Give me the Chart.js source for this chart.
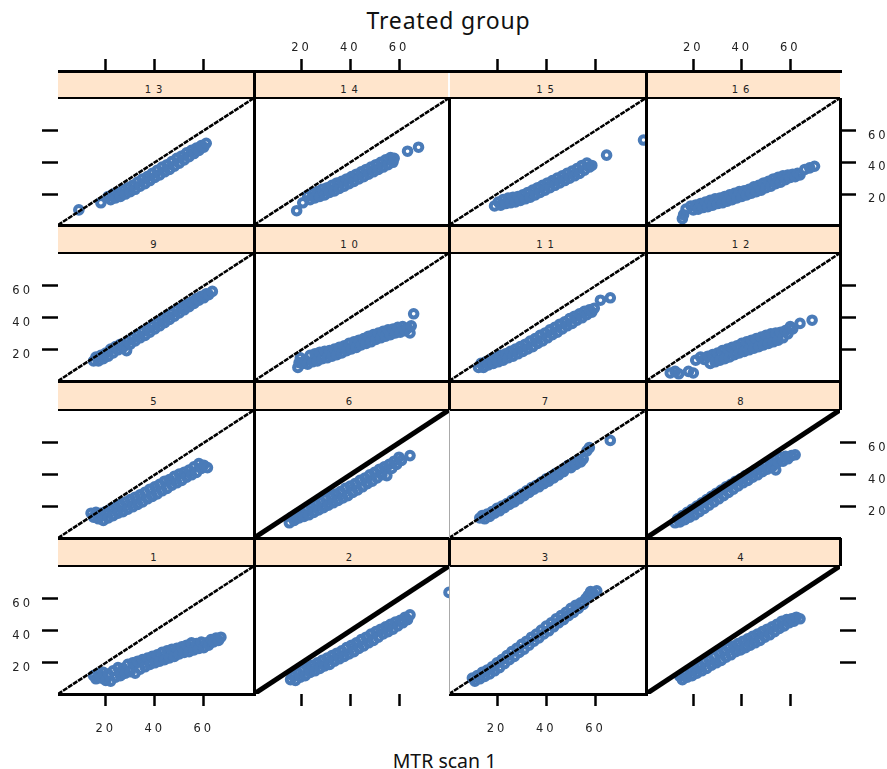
<!DOCTYPE html>
<html>
<head>
<meta charset="utf-8">
<script src="https://cdn.jsdelivr.net/npm/chart.js@4.4.1/dist/chart.umd.min.js"></script>
<style>
  html, body { margin: 0; padding: 0; background: #fff; }
  #fig { position: relative; width: 887px; height: 769px; overflow: hidden; font-family: "Noto Sans", sans-serif; color: #111; }
  #fig canvas { position: absolute; z-index: 1; }
  .strip { position: absolute; z-index: 2; background: #ffe5cc; display: flex; align-items: flex-end; justify-content: center;
           font: 10px "DejaVu Sans", sans-serif; letter-spacing: 5px; color: #222; line-height: 12px; padding-bottom: 2px; box-sizing: border-box; }
  .rule { position: absolute; z-index: 3; background: #000; }
  .label { position: absolute; left: 0; width: 887px; text-align: center; white-space: nowrap; }
</style>
</head>
<body>
<div id="fig">
  <div class="label" style="top:5px;left:5px;font-size:23px;line-height:31px;letter-spacing:0.8px;">Treated group</div>
  <div class="label" style="top:747px;font-size:19.5px;line-height:27px;left:1px;">MTR scan 1</div>
</div>
<script>
// shared axis settings
const axisLimits = [0.5, 80.5];
const tickValues = [20, 40, 60];
const panelLabels = ["1", "2", "3", "4", "5", "6", "7", "8", "9", "10", "11", "12", "13", "14", "15", "16"];

// per-subject scan pairs (scan 1, scan 2)
const pts1 = [[15,12],[16,10],[17,13.5],[18,10.5],[19,14],[20,9],[21,13],[22,8.5],[23,15],[24,11],[25,17],[26,12],[27,16.5],[28,13.5],[29,19],[30,14.5],[31,20],[32,13.5],[33,21],[34,16],[35,22],[36,17.5],[37,23],[38,19],[39,24],[40,20],[41,25],[42,21],[43,26.5],[44,22],[45,27.5],[46,23],[47,28.5],[48,24],[49,29],[50,25.5],[51,30],[52,26.5],[53,31],[54,27],[55,32.5],[56,28],[57,32],[58,29],[59,33],[60,29.5],[61,32.5],[62,31],[63,34.5],[64,33],[65,35.5],[66,34],[67,36]];
const pts2 = [[15.5,9.5],[16.5,12],[17.5,9],[18.5,13.5],[19.5,11],[20.5,15.5],[21.5,12],[22.5,17],[23.5,14],[24.5,18.5],[25.5,15],[26.5,20],[27.5,16.5],[28.5,21.5],[29.5,18],[30.5,23],[31.5,19],[32.5,24.5],[33.5,21],[34.5,26],[35.5,22.5],[36.5,27.5],[37.5,24],[38.5,29.5],[39.5,25.5],[40.5,31],[41.5,27],[42.5,32.5],[43.5,29],[44.5,34.5],[45.5,30.5],[46.5,36],[47.5,32.5],[48.5,38],[49.5,34],[50.5,39.5],[51.5,36],[52.5,41],[53.5,38],[54.5,42.5],[55.5,39.5],[56.5,44],[57.5,41],[58.5,45.5],[59.5,43],[60.5,46.5],[61.5,45],[62.5,48.5],[63.5,47],[64.5,50],[80.5,64]];
const pts3 = [[10,10.5],[11,8.5],[12,12],[13,10],[14,14],[15,11.5],[16,15.5],[17,13],[18,17.5],[19,15],[20,20],[21,17],[22,22],[23,19.5],[24,24.5],[25,22],[26,27],[27,24],[28,29],[29,26.5],[30,31.5],[31,28.5],[32,33.5],[33,31],[34,36],[35,33.5],[36,38],[37,35.5],[38,40.5],[39,38],[40,43],[41,40],[42,45],[43,42.5],[44,47.5],[45,45],[46,49.5],[47,47],[48,51.5],[49,49.5],[50,54],[51,51.5],[52,56],[53,54],[54,57.5],[55,56.5],[56,60],[57,62],[58,64.5],[59,63.5],[60.5,65]];
const pts4 = [[14.5,11.5],[15.5,9.5],[16.5,13.5],[17.5,11],[18.5,15.5],[19.5,12],[20.5,17],[21.5,13.5],[22.5,18.5],[23.5,15],[24.5,20.5],[25.5,16.5],[26.5,22],[27.5,18.5],[28.5,24],[29.5,20],[30.5,26],[31.5,21.5],[32.5,27.5],[33.5,23.5],[34.5,29.5],[35.5,25],[36.5,30.5],[37.5,27],[38.5,32],[39.5,28],[40.5,33.5],[41.5,29.5],[42.5,35],[43.5,31],[44.5,36.5],[45.5,32.5],[46.5,38],[47.5,34],[48.5,39.5],[49.5,36],[50.5,41],[51.5,37.5],[52.5,42.5],[53.5,39.5],[54.5,44],[55.5,41.5],[56.5,46],[57.5,43],[58.5,47],[59.5,45],[60.5,47.5],[61.5,46],[62.5,48.5],[64,47.5]];
const pts5 = [[14,16],[15,13.5],[16,16.5],[17,12.5],[18,16],[19,11.5],[20,17],[21,13],[22,18.5],[23,14.5],[24,20],[25,16],[26,21.5],[27,17],[28,23],[29,18.5],[30,24.5],[31,20],[32,26],[33,21.5],[34,27.5],[35,23],[36,29],[37,25],[38,31],[39,26.5],[40,32.5],[41,28],[42,34],[43,30],[44,36],[45,31.5],[46,37],[47,33.5],[48,39],[49,35],[50,40.5],[51,36.5],[52,41.5],[53,38.5],[54,43],[55,40],[56,45],[57,41.5],[58,47],[59,44],[60,46],[61.5,44.5]];
const pts6 = [[15,10],[16,13.5],[17,11.5],[18,15.5],[19,13],[20,16.5],[21,14],[22,18.5],[23,15],[24,20],[25,16.5],[26,21.5],[27,18],[28,23],[29,19.5],[30,25],[31,21],[32,26.5],[33,22.5],[34,28],[35,24],[36,29.5],[37,25.5],[38,31.5],[39,27],[40,33],[41,29],[42,34.5],[43,30.5],[44,36.5],[45,32.5],[46,38],[47,34.5],[48,40],[49,36],[50,41.5],[51,38],[52,43.5],[53,40],[54,45],[55,39.5],[56,46.5],[57,44],[58,48.5],[59,46.5],[60,51],[61,49],[64.5,52]];
const pts7 = [[13,13],[14,14.5],[15,12.5],[16,15.5],[17,14],[18,17],[19,16],[20,19],[21,17.5],[22,20.5],[23,19.5],[24,22],[25,21.5],[26,24],[27,23],[28,26],[29,25],[30,28],[31,27],[32,30],[33,29],[34,32],[35,31],[36,33.5],[37,32.5],[38,35.5],[39,34.5],[40,37.5],[41,36],[42,39],[43,38],[44,41],[45,40],[46,42.5],[47,42],[48,44.5],[49,46],[50,44.5],[51,47.5],[52,46.5],[53,49.5],[54,48],[55,50],[56.5,55],[57.5,57],[66,61.5]];
const pts8 = [[12.5,10],[13.5,12.5],[14.5,10.5],[15.5,14.5],[16.5,12],[17.5,16.5],[18.5,13.5],[19.5,18.5],[20.5,15],[21.5,20.5],[22.5,17],[23.5,22.5],[24.5,19],[25.5,24.5],[26.5,21],[27.5,26.5],[28.5,23],[29.5,28.5],[30.5,25],[31.5,30.5],[32.5,27],[33.5,32.5],[34.5,29],[35.5,34],[36.5,31],[37.5,36],[38.5,33],[39.5,37.5],[40.5,35],[41.5,39.5],[42.5,36.5],[43.5,41],[44.5,38.5],[45.5,43],[46.5,40],[47.5,44.5],[48.5,42],[49.5,46.5],[50.5,43.5],[51.5,48],[52.5,45],[53.5,49.5],[54,43],[55,48],[56,51],[57,48.5],[58,51.5],[59,50],[60.5,52],[62,52.5]];
const pts9 = [[15,13],[16,15.5],[17,13],[18,16.5],[19,14.5],[20,18],[21,16],[22,20.5],[23,18],[24,22],[25,20],[26,23.5],[27,21.5],[28.5,19.5],[29,25.5],[30,23.5],[31,27.5],[32,25.5],[33,29.5],[34,27.5],[35,31.5],[36,29],[37,33],[38,31],[39,35],[40,33],[41,37],[42,35],[43,39],[44,37],[45,41],[46,39],[47,43],[48,41],[49,45],[50,43],[51,46.5],[52,45],[53,48.5],[54,47],[55,50],[56,49],[57,52],[58,51],[59,53.5],[60,52.5],[61,55],[62,54.5],[63.5,56.5]];
const pts10 = [[18.5,9],[19,12],[19.5,15],[20.5,11.5],[21.5,13.5],[22.5,11],[23.5,16.5],[24.5,12.5],[25.5,17.5],[26.5,13],[27.5,18.5],[28.5,14.5],[29.5,19],[30.5,15],[31.5,19.5],[32.5,16],[33.5,20.5],[34.5,17],[35.5,21.5],[36.5,18],[37.5,22.5],[38.5,19.5],[39.5,24],[40.5,20.5],[41.5,25],[42.5,21.5],[43.5,26],[44.5,23],[45.5,27],[46.5,24],[47.5,28.5],[48.5,25],[49.5,29.5],[50.5,26.5],[51.5,30.5],[52.5,27.5],[53.5,31.5],[54.5,28.5],[55.5,32.5],[56.5,29.5],[57.5,33],[58.5,30.5],[59.5,34],[60.5,31],[61.5,34.5],[62.5,32],[63.5,33.5],[64.5,30.5],[65,35],[66,42.5]];
const pts11 = [[12.5,9],[13.5,11.5],[14.5,9],[15.5,12.5],[16.5,10.5],[17.5,14],[18.5,11.5],[19.5,15],[20.5,12.5],[21.5,16.5],[22.5,13.5],[23.5,17.5],[24.5,15],[25.5,19],[26.5,16],[27.5,20.5],[28.5,17.5],[29.5,22],[30.5,19],[31.5,23.5],[32.5,20.5],[33.5,25.5],[34.5,22],[35.5,27],[36.5,24],[37.5,29],[38.5,25.5],[39.5,30.5],[40.5,27.5],[41.5,32.5],[42.5,29.5],[43.5,34],[44.5,31],[45.5,36],[46.5,33],[47.5,37.5],[48.5,35],[49.5,39.5],[50.5,36.5],[51.5,41],[52.5,38.5],[53.5,42.5],[54.5,40],[55.5,44],[56.5,42],[57.5,45],[58.5,43.5],[59.5,46],[62,51],[66,52.5]];
const pts12 = [[10.5,5.5],[12.5,6.5],[14,5],[18,6.5],[20,5.5],[21,13.5],[23,15.5],[24.5,14],[26,16],[27,11.5],[28,17],[29,12.5],[30,18],[31,13.5],[32,19.5],[33,14.5],[34,20.5],[35,15.5],[36,21.5],[37,17],[38,22.5],[39,18],[40,24],[41,19],[42,25],[43,20],[44,26],[45,21],[46,27],[47,22],[48,28],[49,23],[50,29],[51,24],[52,30],[53,25],[54,30.5],[55,26],[56,31],[57,27.5],[58,32],[59,30],[60,34.5],[61,33],[64,36.5],[69,38.5]];
const pts13 = [[9,10],[18,14.5],[21,18.5],[22,16.5],[23,20],[24,17.5],[25,21],[26,18.5],[27,22.5],[28,20],[29,24],[30,21.5],[31,25.5],[32,23],[33,27.5],[34,25],[35,29.5],[36,26.5],[37,31],[38,28.5],[39,33],[40,30.5],[41,35],[42,32],[43,37],[44,34],[45,38.5],[46,35.5],[47,40.5],[48,37.5],[49,42.5],[50,39.5],[51,44],[52,41.5],[53,46],[54,43.5],[55,47.5],[56,45.5],[57,49],[58,47.5],[59,50.5],[60,49.5],[61,52]];
const pts14 = [[18,9.5],[20.5,14.5],[22.5,19],[23.5,16.5],[24.5,20.5],[25.5,17.5],[26.5,21.5],[27.5,18.5],[28.5,23],[29.5,19.5],[30.5,24],[31.5,21],[32.5,25.5],[33.5,22],[34.5,27],[35.5,23.5],[36.5,28],[37.5,25],[38.5,29.5],[39.5,26.5],[40.5,31],[41.5,28],[42.5,32.5],[43.5,29.5],[44.5,34],[45.5,31],[46.5,35.5],[47.5,32.5],[48.5,37],[49.5,34],[50.5,38.5],[51.5,35.5],[52.5,40],[53.5,37],[54.5,41.5],[55.5,38.5],[56.5,43],[57.5,40],[58,42.5],[63.5,47],[68,49.5]];
const pts15 = [[19,12.5],[20.5,15],[21.5,13],[22.5,16.5],[23.5,14],[24.5,17.5],[25.5,14.5],[26.5,18],[27.5,15],[28.5,18.5],[29.5,16],[30.5,19.5],[31.5,17],[32.5,21],[33.5,18],[34.5,22.5],[35.5,19.5],[36.5,24],[37.5,21],[38.5,25.5],[39.5,22.5],[40.5,27],[41.5,24],[42.5,28.5],[43.5,25.5],[44.5,30],[45.5,27],[46.5,31.5],[47.5,28.5],[48.5,33],[49.5,30],[50.5,34.5],[51.5,31.5],[52.5,36],[53.5,33],[54.5,38],[55.5,35],[56.5,39.5],[57.5,37],[58.5,38],[64.5,44.5],[79.5,54]];
const pts16 = [[15.5,4.5],[16,7],[17,10.5],[19,12.5],[20,10],[21,13],[22,10.5],[23,14],[24,11.5],[25,15],[26,12],[27,16],[28,13],[29,17],[30,14],[31,17.5],[32,14.5],[33,18.5],[34,15.5],[35,19.5],[36,16.5],[37,20.5],[38,17.5],[39,21.5],[40,18.5],[41,22],[42,19.5],[43,23],[44,20.5],[45,24.5],[46,21.5],[47,25.5],[48,22.5],[49,27],[50,24],[51,28],[52,25],[53,29.5],[54,26.5],[55,30.5],[56,27.5],[57,31.5],[58,29],[59,32],[60,30.5],[61,32.5],[62,31],[63,33],[64,32],[66,35.5],[68,36.5],[70,37.5]];

const panelPoints = [pts1, pts2, pts3, pts4, pts5, pts6, pts7, pts8, pts9, pts10, pts11, pts12, pts13, pts14, pts15, pts16];
// panels whose identity line is drawn heavy
const heavyRefPanels = [2, 4, 6, 8];

// page grid (row 0 is the top row)
const colEdges = [58, 254, 449, 646, 840];
const stripTops = [71, 225, 381, 538];
const panelTops = [98, 253, 410, 566];
const panelBottoms = [225, 381, 538, 694];
const MARGIN = 60;
const BLUE = "#4a7bb8";
const TICK_FONT = { family: "DejaVu Sans", size: 11.5 };

const fig = document.getElementById("fig");

function rule(x, y, w, h, color) {
    const d = document.createElement("div");
    d.className = "rule";
    d.style.cssText = `left:${x}px;top:${y}px;width:${w}px;height:${h}px;` + (color ? `background:${color};` : "");
    fig.appendChild(d);
}

function axis(position, showTicks, showLabels, tickLength, padding, labelOffset) {
    const horizontal = position === "top" || position === "bottom";
    return {
        type: "linear",
        axis: horizontal ? "x" : "y",
        position,
        min: axisLimits[0],
        max: axisLimits[1],
        afterBuildTicks: (s) => { s.ticks = tickValues.map((v) => ({ value: v })); },
        afterFit: (s) => { if (horizontal) s.height = MARGIN; else s.width = MARGIN; },
        border: { display: false },
        grid: { display: showTicks, drawOnChartArea: false, drawTicks: true, tickLength, tickWidth: 2.5, tickColor: "#000" },
        ticks: { display: showLabels, autoSkip: false, maxRotation: 0, padding, labelOffset, font: TICK_FONT, color: "#222" },
    };
}

// tick labels are set with wide tracking
const trackingPlugin = {
    id: "tracking",
    beforeDraw(chart) { chart.ctx.letterSpacing = "3px"; },
};

function makePanel(idx) {
    const n = idx + 1;
    const col = idx % 4;
    const row = 3 - Math.floor(idx / 4);
    const left = colEdges[col], right = colEdges[col + 1];
    const top = panelTops[row], bottom = panelBottoms[row];
    const w = right - left + 2 * MARGIN;
    const h = bottom - top + 2 * MARGIN;

    // strip with the panel number
    const strip = document.createElement("div");
    strip.className = "strip";
    strip.style.cssText = `left:${left}px;top:${stripTops[row]}px;width:${right - left}px;height:${top - stripTops[row]}px;`;
    strip.textContent = panelLabels[idx];
    fig.appendChild(strip);

    const canvas = document.createElement("canvas");
    canvas.width = w;
    canvas.height = h;
    canvas.style.left = (left - MARGIN) + "px";
    canvas.style.top = (top - MARGIN) + "px";
    canvas.style.width = w + "px";
    canvas.style.height = h + "px";
    fig.appendChild(canvas);

    const heavy = heavyRefPanels.includes(n);
    const topTickLen = (top - stripTops[row]) + 12;

    new Chart(canvas, {
        data: {
            datasets: [
                // y = x reference; the first dataset is painted last, over the points
                {
                    type: "line",
                    data: axisLimits.map((v) => ({ x: v, y: v })),
                    borderColor: "#000",
                    borderWidth: heavy ? 5 : 2.6,
                    borderDash: heavy ? [] : [5, 1],
                    pointRadius: 0,
                    clip: 0,
                },
                {
                    type: "scatter",
                    data: panelPoints[idx].map(([x, y]) => ({ x, y })),
                    pointRadius: 3.8,
                    pointBorderWidth: 4,
                    pointBorderColor: BLUE,
                    pointBackgroundColor: "rgba(0,0,0,0)",
                    clip: 0,
                },
            ],
        },
        options: {
            responsive: false,
            animation: false,
            devicePixelRatio: 1,
            events: [],
            layout: { padding: 0 },
            plugins: { legend: { display: false }, tooltip: { enabled: false } },
            scales: {
                x: axis("bottom", row === 3, row === 3 && col % 2 === 0, 12, 16, 0),
                xT: axis("top", row === 0, row === 0 && col % 2 === 1, topTickLen, 4, 0),
                y: axis("left", col === 0, col === 0 && row % 2 === 1, 16, 9, 5),
                yR: axis("right", col === 3, col === 3 && row % 2 === 0, 16, 12, 5),
            },
        },
        plugins: [trackingPlugin],
    });
}

for (let i = 0; i < 16; i++) makePanel(i);

// frame lines
rule(58, 69.5, 784, 3);
for (let r = 0; r < 4; r++) rule(58, panelTops[r] - 1, 782, 2);
for (let r = 0; r < 3; r++) rule(58, panelBottoms[r] - 1.5, 783, 3);
rule(colEdges[0], panelBottoms[3] - 1.5, colEdges[1] - colEdges[0] + 1.5, 3);
rule(colEdges[2], panelBottoms[3] - 1.5, colEdges[3] - colEdges[2] + 1.5, 3);
rule(colEdges[1] - 1.5, 71, 3, panelBottoms[3] - 71 + 1.5);
rule(colEdges[3] - 1.5, 71, 3, panelBottoms[3] - 71 + 1.5);
// middle divider: heavy in the upper rows, hairline in the lower ones
rule(colEdges[2] - 1.5, 72.5, 2.5, panelTops[0] - 73.5, "#fff");
rule(colEdges[2] - 1.5, panelTops[0], 3, panelBottoms[1] - panelTops[0] + 1.5);
for (let r = 2; r < 4; r++) {
    rule(colEdges[2] - 1.5, stripTops[r], 3, panelTops[r] - stripTops[r]);
    rule(colEdges[2], panelTops[r], 1, panelBottoms[r] - panelTops[r], "#aaa");
}
// right edge
rule(colEdges[4] - 1.5, panelTops[0], 3, panelBottoms[1] - panelTops[0] + 1.5);
for (let r = 2; r < 4; r++) rule(colEdges[4] - 1.5, stripTops[r], 3, panelTops[r] - stripTops[r]);
</script>
</body>
</html>
